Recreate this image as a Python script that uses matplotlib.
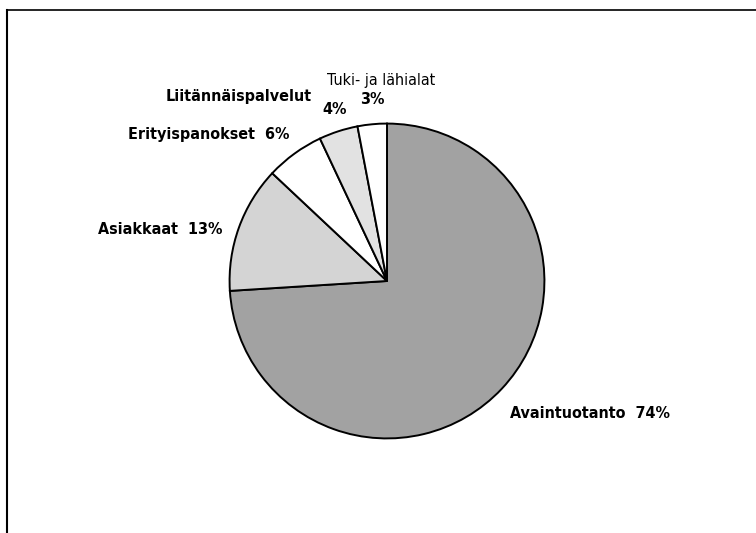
import matplotlib
matplotlib.use("Agg")
import matplotlib.pyplot as plt
from matplotlib.lines import Line2D

W, H = 756, 533

categories = ["Avaintuotanto", "Asiakkaat", "Erityispanokset",
              "Liitännäispalvelut", "Tuki- ja lähialat"]
shares = [74, 13, 6, 4, 3]
colors = ["#a2a2a2", "#d4d4d4", "#ffffff", "#e2e2e2", "#ffffff"]

fig = plt.figure(figsize=(W / 100, H / 100), dpi=100)
fig.patch.set_facecolor("white")

# pie centre (387, 281) px, radius 159 px
cx, cy, r = 387, 281, 159
ax = fig.add_axes([(cx - r) / W, (H - cy - r) / H, 2 * r / W, 2 * r / H])
ax.pie(shares, colors=colors, startangle=90, counterclock=False,
       wedgeprops=dict(edgecolor="black", linewidth=1.4))
ax.set_xlim(-1.01, 1.01)
ax.set_ylim(-1.01, 1.01)
ax.set_aspect("equal")
ax.axis("off")


def px(x, y):
    return x / W, 1 - y / H


style = dict(family="DejaVu Sans", stretch="condensed", fontsize=11.5, va="center")

# labels (pixel positions of the text anchor / vertical centre)
fig.text(*px(670, 413), f"{categories[0]}  {shares[0]}%", weight="bold",
         ha="right", **style)
fig.text(*px(98, 230), f"{categories[1]}  {shares[1]}%", weight="bold", **style)
fig.text(*px(128, 135), f"{categories[2]}  {shares[2]}%", weight="bold", **style)
fig.text(*px(312, 97), categories[3], weight="bold", ha="right", **style)
fig.text(*px(322, 109), f"{shares[3]}%", weight="bold", **style)
fig.text(*px(327, 80), categories[4], **style)
fig.text(*px(360, 100), f"{shares[4]}%", weight="bold", **style)

# frame: top and left edges only
fig.add_artist(Line2D([7 / W, 1], [1 - 9.5 / H, 1 - 9.5 / H],
                      transform=fig.transFigure, color="black", lw=1.2))
fig.add_artist(Line2D([7 / W, 7 / W], [0, 1 - 9.5 / H],
                      transform=fig.transFigure, color="black", lw=1.5))

fig.savefig("out.png", dpi=100)
